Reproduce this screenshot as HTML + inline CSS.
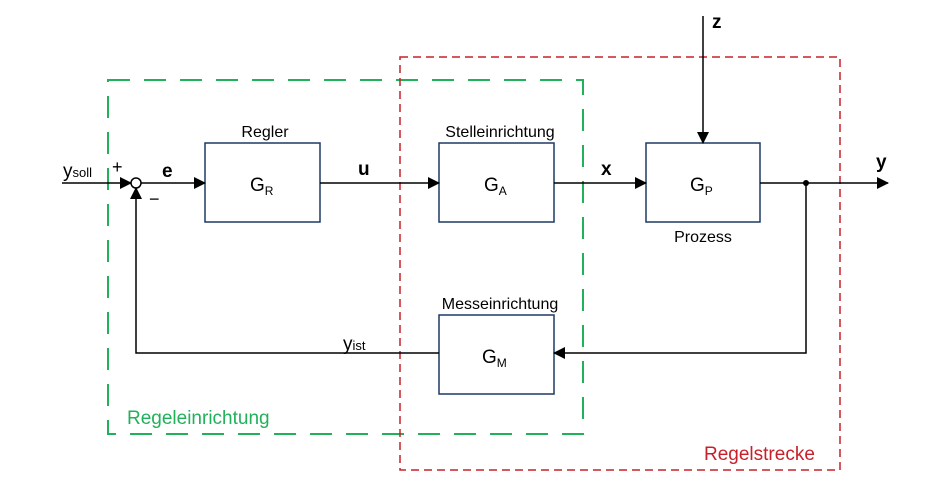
<!DOCTYPE html>
<html><head><meta charset="utf-8"><style>
html,body{margin:0;padding:0;background:#fff;}
svg{display:block;font-family:"Liberation Sans",Calibri,sans-serif;}
</style></head><body>
<svg width="943" height="481" viewBox="0 0 943 481" xmlns="http://www.w3.org/2000/svg">
<defs>
<marker id="a" markerWidth="12" markerHeight="12" refX="11" refY="6" orient="auto" markerUnits="userSpaceOnUse">
<path d="M0,0 L12,6 L0,12 z" fill="#000"/></marker>
</defs>
<rect x="108" y="80" width="475" height="354" fill="none" stroke="#21b15a" stroke-width="2" stroke-dasharray="22,14"/>
<rect x="400" y="57" width="440" height="413" fill="none" stroke="#c8202a" stroke-width="1.5" stroke-dasharray="8,5"/>
<g fill="#fff" stroke="#1f3864" stroke-width="1.5">
<rect x="205" y="143" width="115" height="79"/>
<rect x="439" y="143" width="115" height="79"/>
<rect x="646" y="143" width="114" height="79"/>
<rect x="439" y="315" width="115" height="79"/>
</g>
<g stroke="#000" stroke-width="1.5" fill="none">
<line x1="62" y1="183" x2="131" y2="183" marker-end="url(#a)"/>
<circle cx="136" cy="183" r="5" fill="#fff"/>
<line x1="141" y1="183" x2="205" y2="183" marker-end="url(#a)"/>
<line x1="320" y1="183" x2="439" y2="183" marker-end="url(#a)"/>
<line x1="554" y1="183" x2="646" y2="183" marker-end="url(#a)"/>
<line x1="760" y1="183" x2="888" y2="183" marker-end="url(#a)"/>
<line x1="703" y1="16" x2="703" y2="143" marker-end="url(#a)"/>
<polyline points="806,183 806,353 554,353" marker-end="url(#a)"/>
<polyline points="439,353 136,353 136,188" marker-end="url(#a)"/>
</g>
<circle cx="806" cy="183" r="3" fill="#000"/>
<g font-size="16" fill="#000" text-anchor="middle">
<text x="265" y="137">Regler</text>
<text x="500" y="137">Stelleinrichtung</text>
<text x="500" y="309">Messeinrichtung</text>
<text x="703" y="242">Prozess</text>
</g>
<g font-size="19" fill="#000">
<text x="250" y="191">G<tspan font-size="12" dy="4">R</tspan></text>
<text x="484" y="191">G<tspan font-size="12" dy="4">A</tspan></text>
<text x="690" y="191">G<tspan font-size="12" dy="4">P</tspan></text>
<text x="482" y="363">G<tspan font-size="12" dy="4">M</tspan></text>
<text x="63" y="177">y<tspan font-size="13">soll</tspan></text>
<text x="343" y="350">y<tspan font-size="13">ist</tspan></text>
<text x="162" y="177" font-weight="bold">e</text>
<text x="358" y="175" font-weight="bold">u</text>
<text x="601" y="175" font-weight="bold">x</text>
<text x="876" y="168" font-weight="bold">y</text>
<text x="712" y="28" font-weight="bold">z</text>
<text x="112" y="173" font-size="18">+</text>
<text x="149" y="205" font-size="18">−</text>
</g>
<text x="127" y="424" font-size="19" fill="#21b15a">Regeleinrichtung</text>
<text x="704" y="460" font-size="19" fill="#c8202a">Regelstrecke</text>
</svg>
</body></html>
